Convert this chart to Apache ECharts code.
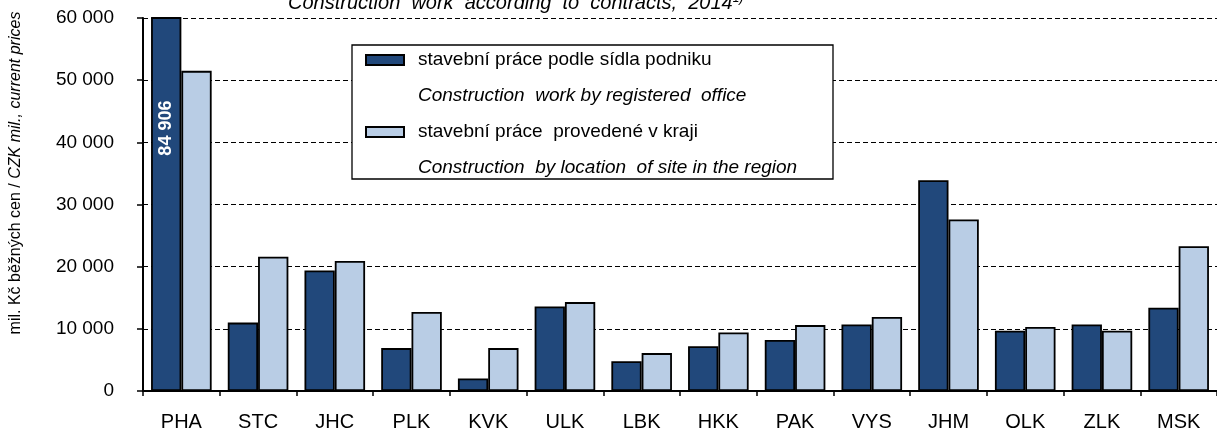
<!DOCTYPE html>
<html>
<head>
<meta charset="utf-8">
<script src="https://cdn.jsdelivr.net/npm/echarts@6/dist/echarts.min.js"></script>
<style>
html, body {margin:0; padding:0; background:#fff;}
#chart {width:1217px; height:439px;}
</style>
</head>
<body>
<div id="chart"></div>
<script>
var categories = ['PHA','STC','JHC','PLK','KVK','ULK','LBK','HKK','PAK','VYS','JHM','OLK','ZLK','MSK']
var byOffice = [84906, 11000, 19400, 6900, 2000, 13600, 4800, 7200, 8200, 10700, 33900, 9700, 10700, 13400]
var bySite = [51500, 21600, 20900, 12700, 6900, 14300, 6100, 9400, 10600, 11900, 27600, 10300, 9700, 23300]
var seriesNames = ['stavební práce podle sídla podniku', 'stavební práce  provedené v kraji']
var seriesNamesEn = ['Construction  work by registered  office', 'Construction  by location  of site in the region']

var font = '"Liberation Sans", Arial, sans-serif'

var fmt = function(v){
    return String(v).replace(/\B(?=(\d{3})+(?!\d))/g, ' ')
}

var chart = echarts.init(document.getElementById('chart'))

var opt = {
    animation: false,
    textStyle: {fontFamily: font},
    title: {
        left: 288,
        top: -7,
        padding: 0,
        text: '{t|Construction  work  according  to  contracts,  2014}{s|1)}',
        textStyle: {
            fontWeight: 'normal',
            rich: {
                t: {fontFamily: font, fontSize: 20, fontStyle: 'italic', fontWeight: 'normal', color: '#000'},
                s: {fontFamily: font, fontSize: 12, fontStyle: 'italic', fontWeight: 'normal', color: '#000', verticalAlign: 'top'}
            }
        }
    },
    graphic: [{
        type: 'rect',
        z: 3,
        shape: {x: 352, y: 45, width: 481, height: 134},
        style: {fill: '#fff', stroke: '#000', lineWidth: 1.3}
    }],
    legend: {
        z: 10,
        orient: 'vertical',
        left: 365,
        top: 6,
        padding: 0,
        itemGap: -36,
        itemWidth: 38,
        itemHeight: 10,
        icon: 'rect',
        selectedMode: false,
        data: seriesNames,
        formatter: function(name){
            var i = seriesNames.indexOf(name)
            return '{e| }\n{a|' + name + '}\n{b|' + seriesNamesEn[i] + '}'
        },
        textStyle: {
            fontFamily: font,
            rich: {
                e: {fontSize: 19, lineHeight: 36, height: 36},
                a: {fontFamily: font, fontSize: 19, lineHeight: 36, height: 36, color: '#000', padding: [0,0,0,9]},
                b: {fontFamily: font, fontSize: 19, lineHeight: 36, height: 36, color: '#000', fontStyle: 'italic', padding: [0,0,0,9]}
            }
        }
    },
    grid: {left: 143, top: 18, width: 1081, height: 373},
    xAxis: {
        type: 'category',
        data: categories,
        axisLine: {lineStyle: {color: '#000', width: 2}},
        axisTick: {show: true, length: 5, lineStyle: {color: '#000', width: 1.5}},
        axisLabel: {color: '#000', fontSize: 20, fontFamily: font, margin: 21}
    },
    yAxis: {
        type: 'value',
        min: 0,
        max: 60000,
        interval: 10000,
        name: '{n|mil. Kč běžných cen / }{i|CZK mil., current prices}',
        nameLocation: 'middle',
        nameRotate: 90,
        nameGap: 119,
        nameTextStyle: {
            padding: [0, 0, 0, 63],
            rich: {
                n: {fontFamily: font, fontSize: 16, color: '#000'},
                i: {fontFamily: font, fontSize: 16, color: '#000', fontStyle: 'italic'}
            }
        },
        axisLine: {show: true, lineStyle: {color: '#000', width: 2}},
        axisTick: {show: true, length: 6, lineStyle: {color: '#000', width: 1.5}},
        axisLabel: {color: '#000', fontSize: 19, fontFamily: font, margin: 29, formatter: fmt},
        splitLine: {lineStyle: {color: '#000', type: [5, 3], width: 1}}
    },
    series: [
        {
            name: seriesNames[0],
            type: 'bar',
            data: byOffice,
            barGap: '0%',
            barCategoryGap: '21%',
            itemStyle: {color: '#21487b', borderColor: '#000', borderWidth: 1.8},
            label: {
                show: true,
                position: 'insideTop',
                distance: 111,
                rotate: 90,
                align: 'center',
                verticalAlign: 'middle',
                color: '#fff',
                fontWeight: 'bold',
                fontSize: 18,
                fontFamily: font,
                formatter: function(p){
                    return p.value > 60000 ? fmt(p.value) : ''
                }
            }
        },
        {
            name: seriesNames[1],
            type: 'bar',
            data: bySite,
            barGap: '0%',
            barCategoryGap: '21%',
            itemStyle: {color: '#b9cde5', borderColor: '#000', borderWidth: 1.8}
        }
    ]
}

chart.setOption(opt)
</script>
</body>
</html>
